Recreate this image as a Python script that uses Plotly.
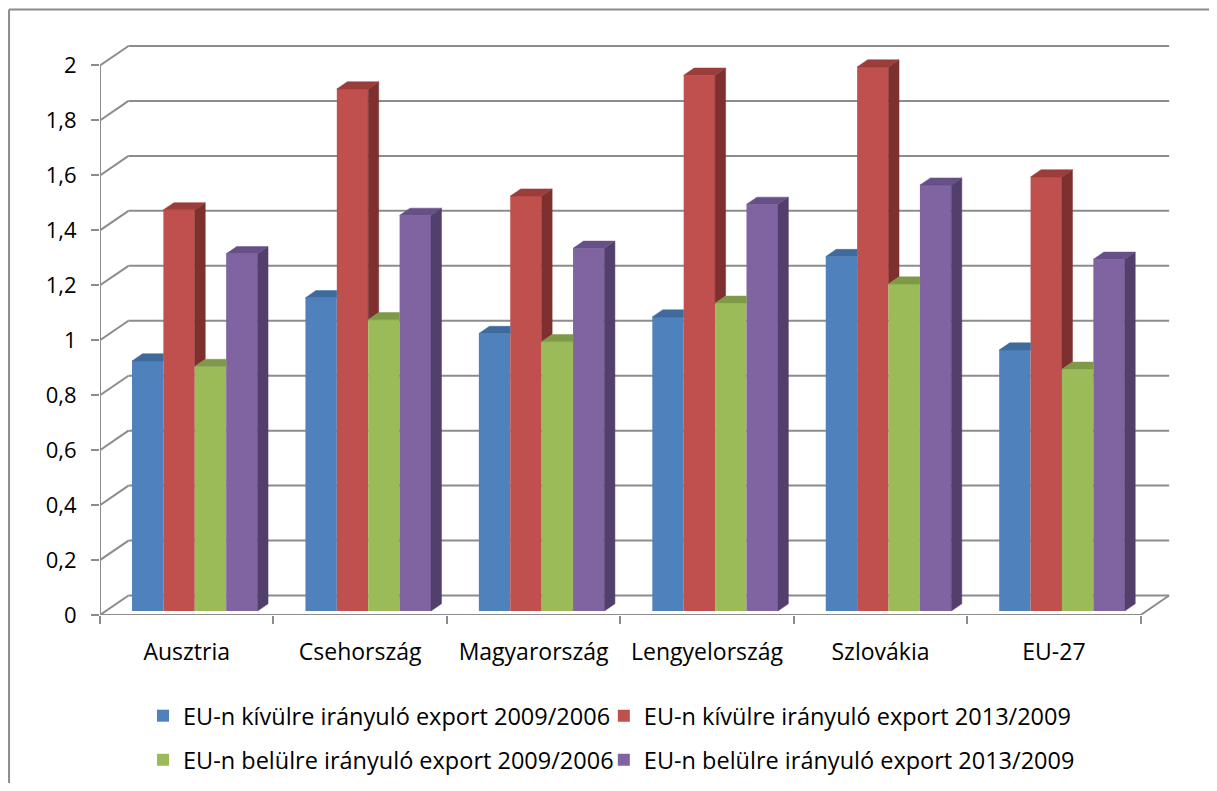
import plotly.graph_objects as go

# ---------------- data ----------------
categories = ["Ausztria", "Csehország", "Magyarország", "Lengyelország", "Szlovákia", "EU-27"]
series_names = [
    "EU-n kívülre irányuló export 2009/2006",
    "EU-n kívülre irányuló export 2013/2009",
    "EU-n belülre irányuló export 2009/2006",
    "EU-n belülre irányuló export 2013/2009",
]
kivul_2009_2006 = [0.91, 1.14, 1.01, 1.07, 1.29, 0.95]
kivul_2013_2009 = [1.46, 1.90, 1.51, 1.95, 1.98, 1.58]
belul_2009_2006 = [0.89, 1.06, 0.98, 1.12, 1.19, 0.88]
belul_2013_2009 = [1.30, 1.44, 1.32, 1.48, 1.55, 1.28]
y_tick_values = [0, 0.2, 0.4, 0.6, 0.8, 1.0, 1.2, 1.4, 1.6, 1.8, 2.0]
y_tick_labels = ["0", "0,2", "0,4", "0,6", "0,8", "1", "1,2", "1,4", "1,6", "1,8", "2"]

series_values = [kivul_2009_2006, kivul_2013_2009, belul_2009_2006, belul_2013_2009]

# ---------------- styling / geometry ----------------
front_colors = ["#4F81BD", "#C0504D", "#9BBB59", "#8064A2"]
top_colors = ["#3F6A9C", "#9B3D3A", "#7E9A47", "#665087"]
side_colors = ["#335887", "#7D302E", "#657C39", "#523F6B"]
grid_color = "#8C8C8C"
FONT = "Open Sans"
FS_Y = 22
FS_X = 23
FS_LEG = 23.5

OFF = 8.0            # page body margin
W, H = 1209, 775     # page = 8 + figure + 8 fits the 1217x791 window
ML = 100.0 - OFF     # px of front y axis
PX_CAT = 173.5       # px per category
PX_VAL = 275.0       # px per value unit
AX_Y = 615.0 - OFF   # px of value 0 on front plane
XMAX = 6.25
YMAX = 2.1
MT = AX_Y - YMAX * PX_VAL
MB = H - AX_Y
PLOT_W = XMAX * PX_CAT
PLOT_H = YMAX * PX_VAL
MR = W - ML - PLOT_W

WALL_DX = 28.5 / PX_CAT
WALL_DY = 19.5 / PX_VAL
BAR_BASE = 4.0 / PX_VAL
BAR_W = 31.4 / PX_CAT
GROUP_LEFT = 32.0 / PX_CAT
DEPTH_DX = 10.5 / PX_CAT
DEPTH_DY = 7.2 / PX_VAL
n_cat = len(categories)


def px_x(p):
    return (p - OFF - ML) / PLOT_W


def px_y(p):
    return (AX_Y - (p - OFF)) / PLOT_H


legend_ids = ["legend", "legend2", "legend3", "legend4"]
legend_pos = [(143, 716), (604, 716), (143, 760), (604, 760)]

fig = go.Figure()

# front faces (real bars)
centers = [i + 0.5 for i in range(n_cat)]
for k, (name, vals) in enumerate(zip(series_names, series_values)):
    fig.add_trace(go.Bar(
        x=centers, y=vals, base=BAR_BASE,
        width=BAR_W, offset=GROUP_LEFT - 0.5 + k * BAR_W,
        marker=dict(color=front_colors[k], line=dict(width=0)),
        name=name, legend=legend_ids[k],
        hoverinfo="skip",
    ))

# side and top faces, computed from the same values
slope = DEPTH_DY / DEPTH_DX
for k, vals in enumerate(series_values):
    side_x, side_y, top_x, top_y = [], [], [], []
    for i, v in enumerate(vals):
        xl = i + GROUP_LEFT + k * BAR_W
        xr = xl + BAR_W
        yt = BAR_BASE + v
        nxt = series_values[k + 1][i] if k + 1 < len(series_values) else None
        # side face (visible part above the neighbour)
        bottom = BAR_BASE if nxt is None else BAR_BASE + nxt
        if bottom < yt:
            side_x += [xr, xr + DEPTH_DX, xr + DEPTH_DX, xr, xr, None]
            side_y += [bottom, bottom + DEPTH_DY, yt + DEPTH_DY, yt, bottom, None]
        # top face (clip where a taller neighbour's front hides it)
        yn = yt if nxt is None else min(max(BAR_BASE + nxt, yt), yt + DEPTH_DY)
        if yn >= yt + DEPTH_DY - 1e-9:
            top_x += [xl, xr, xr, xl + DEPTH_DX, xl, None]
            top_y += [yt, yt, yt + DEPTH_DY, yt + DEPTH_DY, yt, None]
        else:
            top_x += [xl, xr, xr, xr + (yn - yt) / slope, xr + DEPTH_DX, xl + DEPTH_DX, xl, None]
            top_y += [yt, yt, yn, yn, yt + DEPTH_DY, yt + DEPTH_DY, yt, None]
    fig.add_trace(go.Scatter(x=side_x, y=side_y, mode="lines", fill="toself",
                             fillcolor=side_colors[k], line=dict(color=side_colors[k], width=0.5),
                             showlegend=False, hoverinfo="skip"))
    fig.add_trace(go.Scatter(x=top_x, y=top_y, mode="lines", fill="toself",
                             fillcolor=top_colors[k], line=dict(color=top_colors[k], width=0.5),
                             showlegend=False, hoverinfo="skip"))

# walls / gridlines
shapes = []
line = dict(color=grid_color, width=2)
for v in y_tick_values:
    shapes.append(dict(type="line", xref="x", yref="y", x0=WALL_DX, y0=v + WALL_DY,
                       x1=n_cat + WALL_DX, y1=v + WALL_DY, line=line, layer="below"))
    shapes.append(dict(type="line", xref="x", yref="y", x0=0, y0=v,
                       x1=WALL_DX, y1=v + WALL_DY, line=line, layer="below"))
shapes.append(dict(type="line", xref="x", yref="y", x0=0, y0=0, x1=0, y1=y_tick_values[-1],
                   line=line, layer="below"))
shapes.append(dict(type="line", xref="x", yref="y", x0=0, y0=0, x1=n_cat, y1=0,
                   line=line, layer="below"))
shapes.append(dict(type="line", xref="x", yref="y", x0=n_cat, y0=0, x1=n_cat + WALL_DX, y1=WALL_DY,
                   line=line, layer="below"))
# chart-area frame (left, top, right edges)
frame = dict(color="#8C8C8C", width=2)
fx0, fx1, fy0, fy1 = px_x(9), px_x(1214.5), px_y(800), px_y(9)
shapes.append(dict(type="line", xref="paper", yref="paper", x0=fx0, x1=fx0, y0=fy0, y1=fy1, line=frame))
shapes.append(dict(type="line", xref="paper", yref="paper", x0=fx1, x1=fx1, y0=fy0, y1=fy1, line=frame))
shapes.append(dict(type="line", xref="paper", yref="paper", x0=fx0, x1=fx1, y0=fy1, y1=fy1, line=frame))

legends = {}
for lid, (lx, ly) in zip(legend_ids, legend_pos):
    legends[lid] = dict(orientation="h", xanchor="left", yanchor="middle",
                        x=px_x(lx), y=px_y(ly),
                        font=dict(family=FONT, size=FS_LEG, color="black"),
                        bgcolor="rgba(0,0,0,0)", itemwidth=30, itemclick=False)

fig.update_layout(
    width=W, height=H,
    margin=dict(l=ML, r=MR, t=MT, b=MB, pad=0, autoexpand=False),
    paper_bgcolor="white", plot_bgcolor="white",
    barmode="overlay",
    showlegend=True,
    font=dict(family=FONT, size=FS_Y, color="black"),
    xaxis=dict(range=[0, XMAX], tickmode="array", tickvals=centers, ticktext=categories,
               ticks="", showgrid=False, zeroline=False, showline=False, automargin=False,
               ticklabelstandoff=21, tickfont=dict(family=FONT, size=FS_X, color="black"),
               minor=dict(tickmode="array", tickvals=list(range(n_cat + 1)), ticks="outside",
                          ticklen=8, tickwidth=2, tickcolor=grid_color, showgrid=False),
               fixedrange=True),
    yaxis=dict(range=[0, YMAX], tickmode="array", tickvals=y_tick_values, ticktext=y_tick_labels,
               ticks="outside", ticklen=8, tickwidth=2, tickcolor=grid_color, automargin=False,
               tickfont=dict(family=FONT, size=FS_Y, color="black"),
               showgrid=False, zeroline=False, showline=False, ticklabelstandoff=10,
               fixedrange=True),
    shapes=shapes,
    **legends,
)

fig.write_html("out.html")
